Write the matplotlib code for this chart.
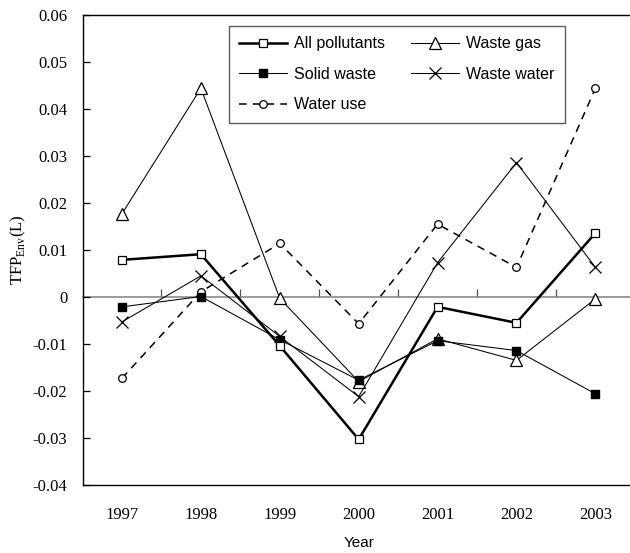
import matplotlib
matplotlib.use("Agg")
import matplotlib.pyplot as plt
from matplotlib.ticker import FixedLocator, NullFormatter

years = ["1997", "1998", "1999", "2000", "2001", "2002", "2003"]
all_pollutants = [0.0079, 0.0091, -0.0104, -0.0303, -0.0021, -0.0055, 0.0136]
waste_gas = [0.0177, 0.0444, -0.0003, -0.0180, -0.0089, -0.0135, -0.0004]
solid_waste = [-0.0021, 0.0001, -0.0091, -0.0177, -0.0093, -0.0114, -0.0206]
waste_water = [-0.0053, 0.0045, -0.0084, -0.0212, 0.0073, 0.0286, 0.0063]
water_use = [-0.0173, 0.0011, 0.0114, -0.0057, 0.0155, 0.0063, 0.0444]
y_ticks = [-0.04, -0.03, -0.02, -0.01, 0, 0.01, 0.02, 0.03, 0.04, 0.05, 0.06]
y_tick_labels = ["-0.04", "-0.03", "-0.02", "-0.01", "0", "0.01", "0.02",
                 "0.03", "0.04", "0.05", "0.06"]

serif = "Liberation Serif"
sans = "Liberation Sans"

fig = plt.figure(figsize=(6.30, 5.53), dpi=100)
ax = fig.add_axes([0.131, 0.123, 0.8767, 0.8499])

x = list(range(len(years)))

h_ap, = ax.plot(x, all_pollutants, color="black", lw=1.8, marker="s", ms=5.5,
                mfc="white", mec="black", mew=0.9, label="All pollutants", zorder=5)
h_wg, = ax.plot(x, waste_gas, color="black", lw=0.75, marker="^", ms=8,
                mfc="white", mec="black", mew=0.9, label="Waste gas", zorder=3)
h_sw, = ax.plot(x, solid_waste, color="black", lw=0.75, marker="s", ms=6,
                mfc="black", mec="black", label="Solid waste", zorder=4)
h_ww, = ax.plot(x, waste_water, color="black", lw=0.75, marker="x", ms=8,
                mew=0.9, label="Waste water", zorder=3)
h_wu, = ax.plot(x, water_use, color="black", lw=1.1, ls=(0, (5, 4)), marker="o",
                ms=5.5, mfc="white", mec="black", mew=0.9, label="Water use", zorder=3)

ax.set_xlim(-0.5, len(years) - 0.5)
ax.set_ylim(-0.04, 0.06)

ax.set_yticks(y_ticks)
ax.set_yticklabels(y_tick_labels, fontfamily=serif, fontsize=12)
ax.tick_params(axis="y", direction="in", length=5, width=0.9, pad=11)

ax.set_xticks(x)
ax.set_xticklabels(years, fontfamily=serif, fontsize=12)
ax.tick_params(axis="x", length=0, pad=16)

for s in ax.spines.values():
    s.set_linewidth(1.0)
    s.set_color("black")

# category axis crossing at zero, with boundary tick marks pointing up
zero_frac = (0 - (-0.04)) / (0.06 - (-0.04))
cat_axis = ax.secondary_xaxis(zero_frac)
cat_axis.spines["bottom"].set_color("#7f7f7f")
cat_axis.spines["bottom"].set_linewidth(1.1)
cat_axis.xaxis.set_major_locator(FixedLocator([i + 0.5 for i in range(len(years) - 1)]))
cat_axis.xaxis.set_major_formatter(NullFormatter())
cat_axis.tick_params(axis="x", direction="in", length=6, width=0.9, color="#555555")

ax.set_xlabel("Year", fontfamily=sans, fontsize=11, labelpad=9.5)
ax.set_ylabel(r"TFP$_{\mathregular{Env}}$(L)", fontfamily=serif, fontsize=12, labelpad=3)

leg = ax.legend(handles=[h_ap, h_sw, h_wu, h_wg, h_ww], ncol=2,
                loc="upper left", bbox_to_anchor=(0.265, 0.977),
                prop={"family": sans, "size": 11.5}, frameon=True, fancybox=False,
                edgecolor="#333333", handlelength=3.0, handletextpad=0.45,
                columnspacing=1.6, labelspacing=0.97, borderpad=0.65,
                borderaxespad=0.0)
leg.get_frame().set_linewidth(1.0)

fig.savefig("out.png", dpi=100)
